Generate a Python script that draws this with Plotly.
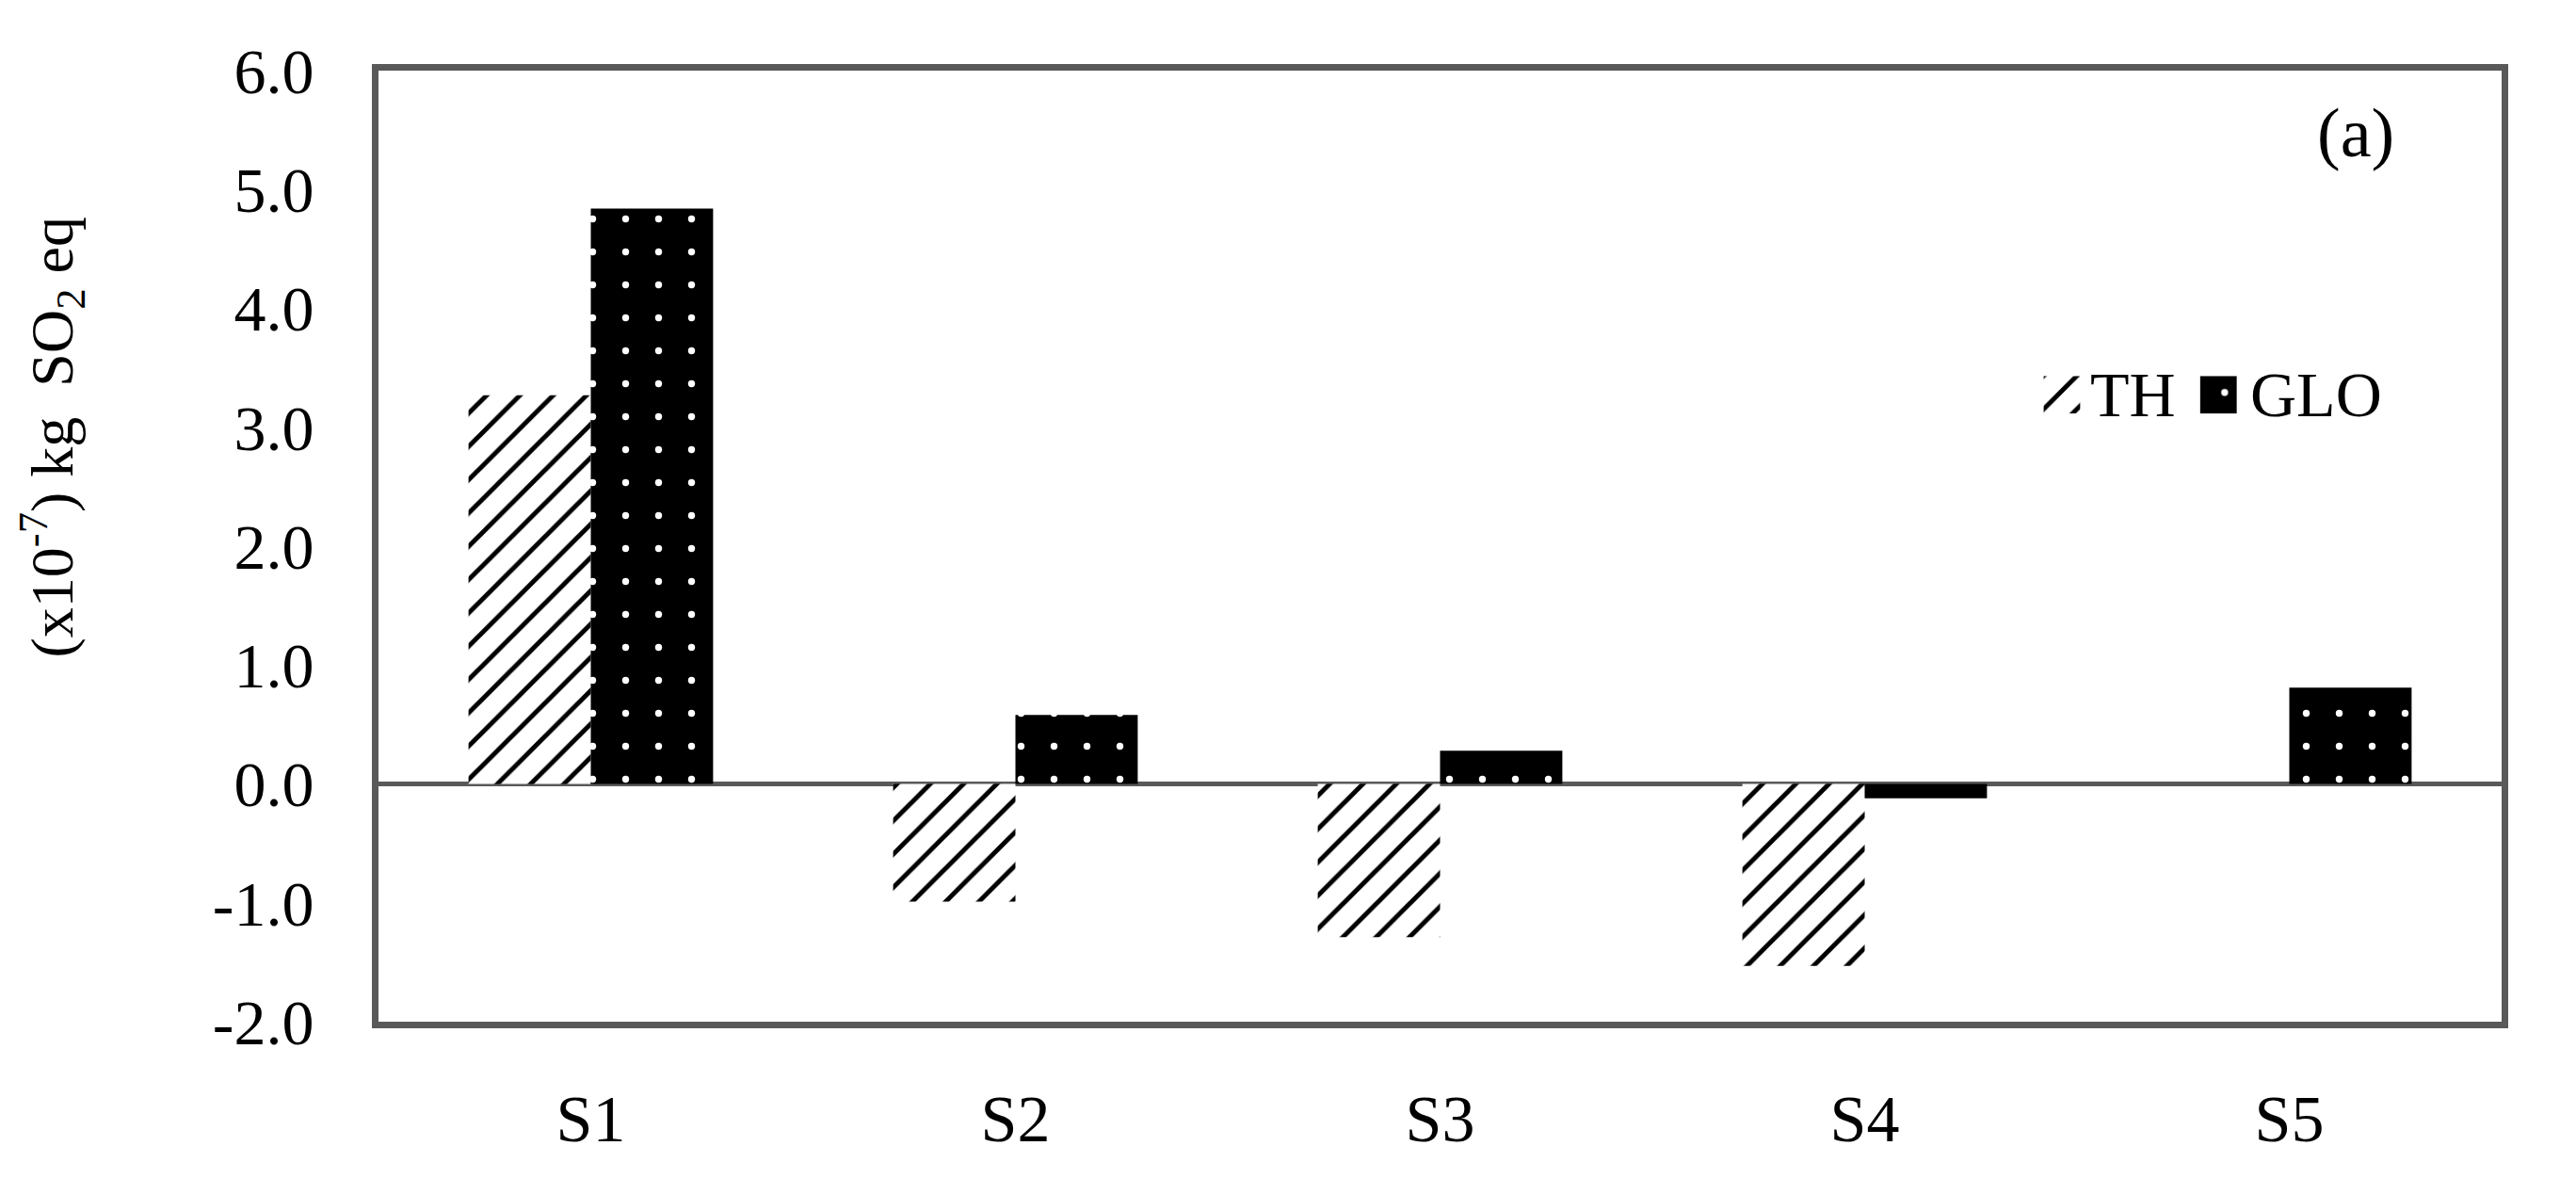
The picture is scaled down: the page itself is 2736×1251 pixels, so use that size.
import plotly.graph_objects as go

# data
categories = ["S1", "S2", "S3", "S4", "S5"]
th_values = [3.27, -0.99, -1.29, -1.53, 0.0]
glo_values = [4.84, 0.58, 0.28, -0.12, 0.81]
series_names = ["TH", "GLO"]
y_ticks = [-2, -1, 0, 1, 2, 3, 4, 5, 6]
y_tick_labels = ["-2.0", "-1.0", "0.0", "1.0", "2.0", "3.0", "4.0", "5.0", "6.0"]
legend_swatch = [1]

FONT = "Palatino Linotype, Book Antiqua, Palatino, Liberation Serif, serif"
FRAME = "#595959"

th_pattern = {"shape": "/", "fgcolor": "black", "bgcolor": "white",
              "size": 25, "solidity": 0.2, "fillmode": "replace"}
glo_pattern = {"shape": ".", "fgcolor": "white", "bgcolor": "black",
               "size": 35, "solidity": 0.035, "fillmode": "replace"}

fig = go.Figure()

fig.add_trace(go.Bar(
    x=categories, y=th_values, name=series_names[0],
    marker={"color": "white", "pattern": th_pattern, "line": {"width": 0}},
    showlegend=False,
))
fig.add_trace(go.Bar(
    x=categories, y=glo_values, name=series_names[1],
    marker={"color": "black", "pattern": glo_pattern, "line": {"width": 0}},
    showlegend=False,
))

# hand-made legend: swatches on a small hidden axis, text as annotations
for i, (name, pat, col) in enumerate(zip(series_names, [th_pattern, glo_pattern], ["white", "black"])):
    fig.add_trace(go.Bar(
        x=[i], y=legend_swatch, xaxis="x2", yaxis="y2",
        width=0.234, offset=-0.117,
        marker={"color": col, "pattern": pat, "line": {"width": 0}},
        showlegend=False, hoverinfo="skip",
    ))

# plot area: x 394..2649, y 67..1078 (pixels)
fig.update_layout(
    width=2736,
    height=1251,
    paper_bgcolor="white",
    plot_bgcolor="white",
    margin={"l": 394, "r": 87, "t": 67, "b": 174},
    barmode="group",
    bargap=0.424,
    bargroupgap=0,
    font={"family": FONT, "color": "black"},
    xaxis={
        "type": "category",
        "range": [-0.5, 4.5],
        "showline": True, "linecolor": FRAME, "linewidth": 7, "mirror": True,
        "showgrid": False, "ticks": "",
        "tickfont": {"size": 70, "family": FONT},
        "ticklabelstandoff": 36,
    },
    yaxis={
        "range": [-2, 6],
        "tickvals": y_ticks, "ticktext": y_tick_labels,
        "showline": True, "linecolor": FRAME, "linewidth": 7, "mirror": True,
        "showgrid": False, "ticks": "",
        "zeroline": True, "zerolinecolor": FRAME, "zerolinewidth": 5,
        "tickfont": {"size": 68, "family": FONT},
        "ticklabelstandoff": 48,
    },
    xaxis2={"domain": [0.7842, 0.8753], "range": [-0.117, 1.117], "visible": False,
            "anchor": "y2"},
    yaxis2={"domain": [0.6394, 0.6789], "range": [0, 1], "visible": False,
            "anchor": "x2"},
    annotations=[
        {"text": "(x10<sup>-7</sup>) kg  SO<sub>2</sub> eq", "textangle": -90,
         "xref": "paper", "yref": "paper", "x": -0.154, "y": 0.615,
         "xanchor": "center", "yanchor": "middle", "showarrow": False,
         "font": {"size": 64, "family": FONT}},
        {"text": "(a)", "xref": "paper", "yref": "paper", "x": 0.9313, "y": 0.935,
         "xanchor": "center", "yanchor": "middle", "showarrow": False,
         "font": {"size": 74, "family": FONT}},
        {"text": series_names[0], "xref": "paper", "yref": "paper", "x": 0.8055, "y": 0.659,
         "xanchor": "left", "yanchor": "middle", "showarrow": False,
         "font": {"size": 68, "family": FONT}},
        {"text": series_names[1], "xref": "paper", "yref": "paper", "x": 0.8805, "y": 0.659,
         "xanchor": "left", "yanchor": "middle", "showarrow": False,
         "font": {"size": 68, "family": FONT}},
    ],
)

fig.write_html("out.html")
